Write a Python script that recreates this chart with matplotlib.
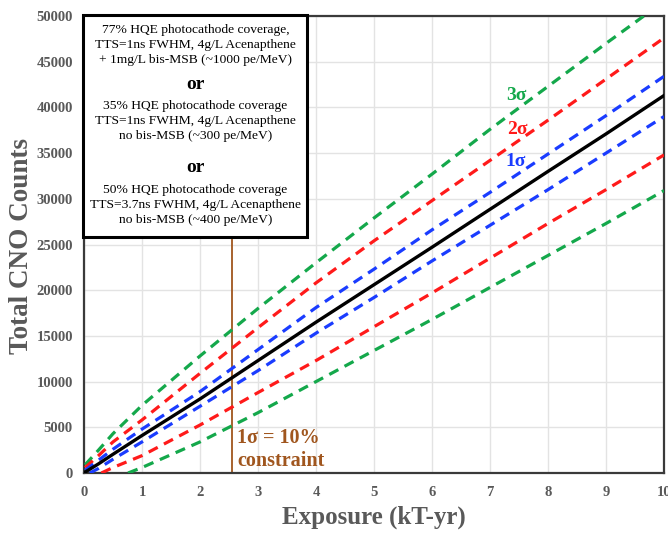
import matplotlib
matplotlib.use("Agg")
import matplotlib.pyplot as plt

# values (counts in thousands)
x_up = [0.02, 0.25, 0.5, 1, 2, 3, 4, 5, 6, 7, 8, 9, 10]
central = [0.1, 1.0, 2.05, 4.1, 8.1, 12.3, 16.5, 20.6, 24.7, 28.85, 33.0, 37.1, 41.3]
one_sig_hi = [0.3, 1.4, 2.6, 4.8, 8.9, 13.5, 18.1, 22.3, 26.6, 30.7, 34.9, 39.1, 43.4]
two_sig_hi = [0.6, 1.9, 3.4, 5.8, 10.9, 15.9, 20.8, 25.4, 29.8, 34.2, 38.6, 43.1, 47.6]
three_sig_hi = [0.9, 2.5, 4.3, 7.4, 12.8, 18.0, 23.0, 27.9, 32.7, 37.6, 42.3, 47.0, 51.6]

x_one_lo = [0.1, 0.25, 0.5, 1, 2, 3, 4, 5, 6, 7, 8, 9, 10]
one_sig_lo = [0, 0.5, 1.5, 3.4, 7.3, 11.2, 15.3, 19.2, 23.2, 27.1, 31.0, 35.0, 39.0]
x_two_lo = [0.3, 0.5, 1, 2, 3, 4, 5, 6, 7, 8, 9, 10]
two_sig_lo = [0, 0.6, 1.9, 5.25, 8.8, 12.3, 16.0, 19.7, 23.5, 27.3, 31.0, 34.8]
x_three_lo = [0.76, 1, 2, 3, 4, 5, 6, 7, 8, 9, 10]
three_sig_lo = [0, 0.6, 3.4, 6.6, 10.0, 13.4, 16.8, 20.3, 23.8, 27.3, 30.9]

constraint_x = 2.55

box_lines = [
    "77% HQE photocathode coverage,",
    "TTS=1ns FWHM, 4g/L Acenapthene",
    "+ 1mg/L bis-MSB (~1000 pe/MeV)",
    "or",
    "35% HQE photocathode coverage",
    "TTS=1ns FWHM, 4g/L Acenapthene",
    "no bis-MSB (~300 pe/MeV)",
    "or",
    "50% HQE photocathode coverage",
    "TTS=3.7ns FWHM, 4g/L Acenapthene",
    "no bis-MSB (~400 pe/MeV)",
]
box_line_y = [48470, 46830, 45190, 42560, 40150, 38510, 36870, 33480, 30960, 29320, 27680]

green = '#14a84b'
red = '#ff1a1a'
blue = '#1a3cff'
brown = '#a0561e'
grey = '#595959'
serif = 'Liberation Serif'

def k(vals):
    return [v * 1000 for v in vals]

fig = plt.figure(figsize=(6.68, 5.34), dpi=100)
ax = fig.add_axes([0.1257, 0.1142, 0.8683, 0.8558])

dash = (0, (3.2, 2.2))
lw = 2.3
ax.plot(x_up, k(three_sig_hi), color=green, lw=lw, linestyle=dash, zorder=3)
ax.plot(x_three_lo, k(three_sig_lo), color=green, lw=lw, linestyle=dash, zorder=3)
ax.plot(x_up, k(two_sig_hi), color=red, lw=lw, linestyle=dash, zorder=3)
ax.plot(x_two_lo, k(two_sig_lo), color=red, lw=lw, linestyle=dash, zorder=3)
ax.plot(x_up, k(one_sig_hi), color=blue, lw=lw, linestyle=dash, zorder=3)
ax.plot(x_one_lo, k(one_sig_lo), color=blue, lw=lw, linestyle=dash, zorder=3)
ax.plot(x_up, k(central), color='black', lw=2.4, zorder=4)

ax.set_xlim(0, 10)
ax.set_ylim(0, 50000)
ax.set_xticks(range(0, 11))
ax.set_yticks(range(0, 50001, 5000))
ax.grid(True, color='#e3e3e3', lw=1.0)
ax.set_axisbelow(True)
ax.tick_params(length=0, labelsize=10.5, labelcolor=grey)
ax.tick_params(axis='x', pad=9)
ax.tick_params(axis='y', pad=8)
for lab in ax.get_xticklabels() + ax.get_yticklabels():
    lab.set_fontfamily(serif)
    lab.set_fontweight('bold')
for sp in ax.spines.values():
    sp.set_color('#3a3a3a')
    sp.set_linewidth(1.6)

ax.set_xlabel('Exposure (kT-yr)', fontsize=18, fontweight='bold',
              family=serif, color=grey, labelpad=5)
ax.set_ylabel('Total CNO Counts', fontsize=19.5, fontweight='bold',
              family=serif, color=grey, va='center', ha='center')
ax.yaxis.set_label_coords(-0.107, 0.497)

# constraint line and label
ax.plot([constraint_x, constraint_x], [0, 25800], color=brown, lw=1.3, zorder=2)
ax.text(2.64, 3830, '1\u03c3 = 10%', color=brown, fontsize=14.5,
        fontweight='bold', family=serif, va='center')
ax.text(2.64, 1310, 'constraint', color=brown, fontsize=14.5,
        fontweight='bold', family=serif, va='center')

# sigma labels
ax.text(7.45, 41300, '3\u03c3', color=green, fontsize=14, fontweight='bold', family=serif, ha='center', va='center')
ax.text(7.47, 37600, '2\u03c3', color=red, fontsize=14, fontweight='bold', family=serif, ha='center', va='center')
ax.text(7.45, 34100, '1\u03c3', color=blue, fontsize=14, fontweight='bold', family=serif, ha='center', va='center')

# description box
box = plt.Rectangle((-0.02, 25800), 3.86, 24300, transform=ax.transData,
                    facecolor='white', edgecolor='black', lw=2.2, zorder=6,
                    clip_on=False)
ax.add_patch(box)
cx = 1.92
for txt, yy in zip(box_lines, box_line_y):
    if txt == 'or':
        ax.text(cx, yy, txt, ha='center', va='center', fontsize=14,
                fontweight='bold', family=serif, zorder=7)
    else:
        ax.text(cx, yy, txt, ha='center', va='center', fontsize=9.7,
                family=serif, zorder=7)

fig.savefig('out.png', dpi=100)
